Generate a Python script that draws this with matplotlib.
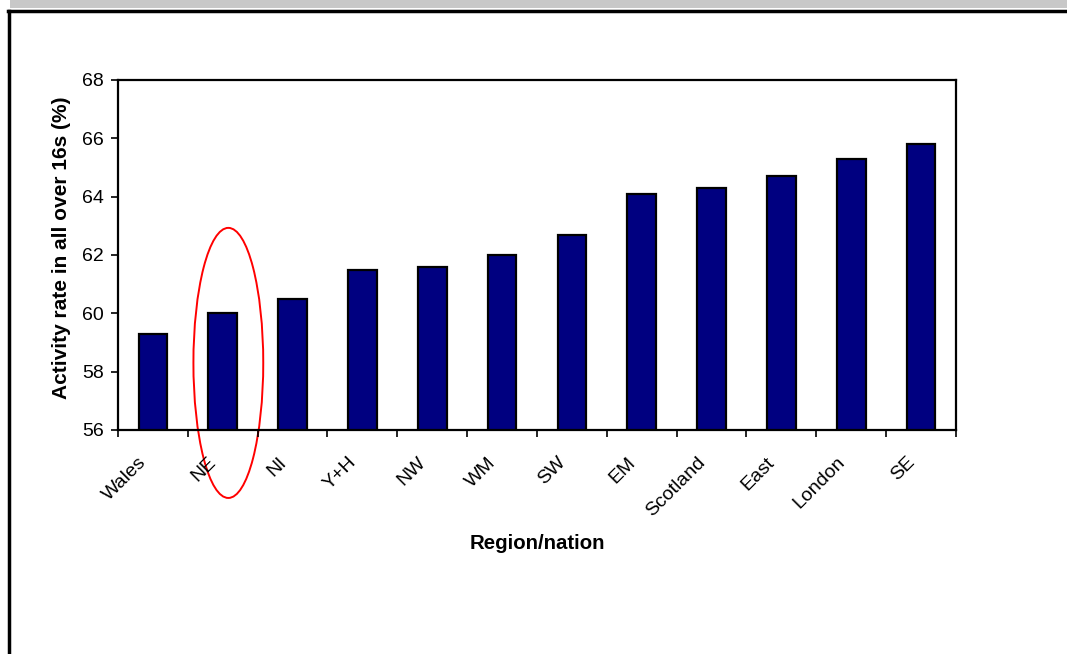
from matplotlib import pyplot as plt
from matplotlib.patches import Ellipse, Rectangle
from matplotlib.lines import Line2D
import matplotlib.transforms as mtransforms
import numpy as np

plt.rcParams['font.family'] = ['Liberation Sans', 'DejaVu Sans']

regions = ["Wales", "NE", "NI", "Y+H", "NW", "WM", "SW", "EM",
           "Scotland", "East", "London", "SE"]
activity = [59.3, 60.0, 60.5, 61.5, 61.6, 62.0, 62.7, 64.1, 64.3, 64.7, 65.3, 65.8]
yticks = [56, 58, 60, 62, 64, 66, 68]

W, H = 1067, 654
fig = plt.figure(figsize=(W / 100, H / 100), dpi=100)

# grey strip on top and frame lines of the pasted chart
fig.patches.append(Rectangle((10 / W, 1 - 8 / H), 1, 8 / H, transform=fig.transFigure,
                             facecolor="#c8c8c8", edgecolor="none"))
fig.lines.append(Line2D([8 / W, 1], [1 - 11 / H, 1 - 11 / H], transform=fig.transFigure,
                        color="black", lw=2.5))
fig.lines.append(Line2D([9 / W, 9 / W], [0, 1 - 11 / H], transform=fig.transFigure,
                        color="black", lw=2.5))

ax = fig.add_axes([118 / W, 1 - 430 / H, (956 - 118) / W, (430 - 80) / H])

x = np.arange(len(regions))
ax.bar(x, activity, width=0.41, bottom=0, color="#000080", edgecolor="black", linewidth=1.6)

ax.set_xlim(-0.5, len(regions) - 0.5)
ax.set_ylim(56, 68)
ax.set_yticks(yticks)
ax.tick_params(axis="y", labelsize=14, length=5, width=1.2, direction="out", pad=5)

# ticks between categories, labels centred on bars
ax.set_xticks(np.arange(len(regions) + 1) - 0.5)
ax.set_xticklabels([])
ax.tick_params(axis="x", length=5, width=1.2, direction="out")
ax.set_xticks(x, minor=True)
ax.set_xticklabels(regions, minor=True, rotation=45, ha="right", rotation_mode="anchor",
                   fontsize=14)
ax.tick_params(axis="x", which="minor", length=0, pad=10)
shift = mtransforms.ScaledTranslation(-0.15, -0.10, fig.dpi_scale_trans)
for lbl in ax.get_xticklabels(minor=True):
    lbl.set_transform(lbl.get_transform() + shift)

for s in ax.spines.values():
    s.set_linewidth(1.6)

ax.set_ylabel("Activity rate in all over 16s (%)", fontsize=15, fontweight="bold")
ax.yaxis.set_label_coords(-0.056, 0.521)
ax.set_xlabel("Region/nation", fontsize=14.7, fontweight="bold", labelpad=10)

# red ring round NE
ax.add_patch(Ellipse((1.08, 58.3), 1.0, 9.26, fill=False, edgecolor="red", lw=1.4,
                     clip_on=False))

fig.savefig("out.png", dpi=100)
